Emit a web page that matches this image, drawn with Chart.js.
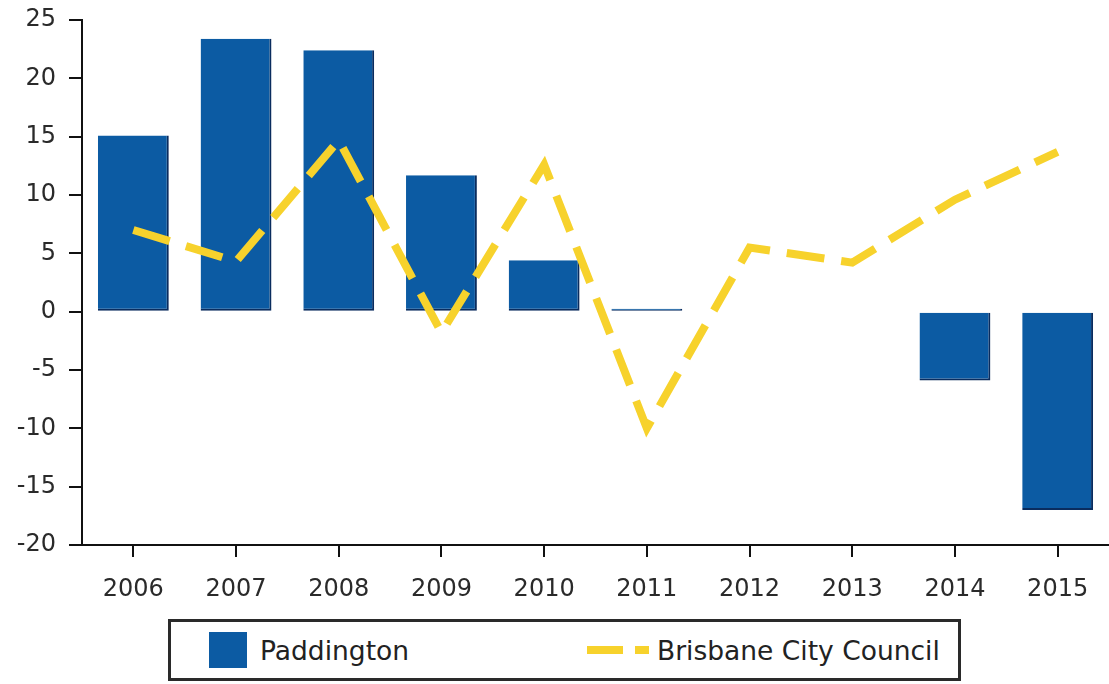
<!DOCTYPE html>
<html>
<head>
<meta charset="utf-8">
<script src="https://cdn.jsdelivr.net/npm/chart.js@4"></script>
<style>
  body { margin: 0; background: #fff; }
  #wrap { position: relative; width: 1109px; height: 684px; }
  #chartBox { position: absolute; left: 0; top: 0; width: 1109px; height: 612px; }
  #legend {
    position: absolute; left: 168px; top: 619px; width: 787px; height: 56px;
    border: 3px solid #2a2a2a; box-sizing: content-box;
    font-family: "DejaVu Sans", sans-serif; font-size: 26.5px; color: #222;
  }
  .item { position: absolute; top: 0; height: 56px; display: flex; align-items: center; }
  .swatch-bar { width: 38px; height: 36px; margin-right: 13px; }
  .swatch-line { width: 62px; height: 8px; margin-right: 8px; }
</style>
</head>
<body>
<div id="wrap">
  <div id="chartBox"><canvas id="chart"></canvas></div>
  <div id="legend"></div>
</div>
<script>
const years = ['2006', '2007', '2008', '2009', '2010', '2011', '2012', '2013', '2014', '2015'];
const paddington = [15.1, 23.4, 22.4, 11.7, 4.4, 0.25, null, null, -5.9, -17.0];
const brisbane = [7.0, 4.3, 14.7, -1.8, 12.6, -10.0, 5.5, 4.2, 9.6, 13.7];
const yMin = -20, yMax = 25, yStep = 5;

const barColor = '#0c5ba3';
const barEdge = '#0a2c5e';
const lineColor = '#f7d22c';
const tickFont = { family: 'DejaVu Sans', size: 24 };

const chart = new Chart(document.getElementById('chart'), {
    type: 'bar',
    data: {
        labels: years,
        datasets: [
            {
                type: 'line',
                label: 'Brisbane City Council',
                data: brisbane,
                borderColor: lineColor,
                backgroundColor: lineColor,
                borderWidth: 8,
                borderDash: [38, 17],
                pointRadius: 0,
                tension: 0,
                order: 0
            },
            {
                label: 'Paddington',
                data: paddington,
                backgroundColor: barColor,
                borderColor: barEdge,
                borderWidth: { top: 0, left: 0, right: 2, bottom: 2 },
                borderSkipped: false,
                barPercentage: 0.69,
                categoryPercentage: 1,
                order: 1
            }
        ]
    },
    options: {
        responsive: true,
        maintainAspectRatio: false,
        animation: false,
        layout: { padding: { top: 20, right: 0, left: 0, bottom: 0 } },
        plugins: { legend: { display: false }, tooltip: { enabled: false } },
        scales: {
            x: {
                offset: true,
                grid: { offset: false, drawOnChartArea: false, drawTicks: true, tickLength: 12, color: '#111', lineWidth: 2 },
                border: { color: '#111', width: 2 },
                ticks: { font: tickFont, color: '#2a2a2a', padding: 18 },
                afterFit: (s) => { s.height = 67; s.paddingRight = 0; }
            },
            y: {
                min: yMin,
                max: yMax,
                ticks: { stepSize: yStep, font: tickFont, color: '#2a2a2a', padding: 13 },
                grid: { drawOnChartArea: false, drawTicks: true, tickLength: 13, color: '#111', lineWidth: 2 },
                border: { color: '#111', width: 2 },
                afterFit: (s) => { s.width = 82; s.paddingTop = 0; s.paddingBottom = 0; }
            }
        }
    }
});

// html legend, built from the chart's datasets
const legend = document.getElementById('legend');
const barDs = chart.data.datasets[1];
const lineDs = chart.data.datasets[0];
legend.innerHTML = `
    <div class="item" style="left:38px">
        <div class="swatch-bar" style="background:${barDs.backgroundColor}"></div>
        <span>${barDs.label}</span>
    </div>
    <div class="item" style="left:416px">
        <div class="swatch-line" style="background:linear-gradient(90deg, ${lineDs.borderColor} 0 36px, transparent 36px 48px, ${lineDs.borderColor} 48px)"></div>
        <span>${lineDs.label}</span>
    </div>
`;
</script>
</body>
</html>
